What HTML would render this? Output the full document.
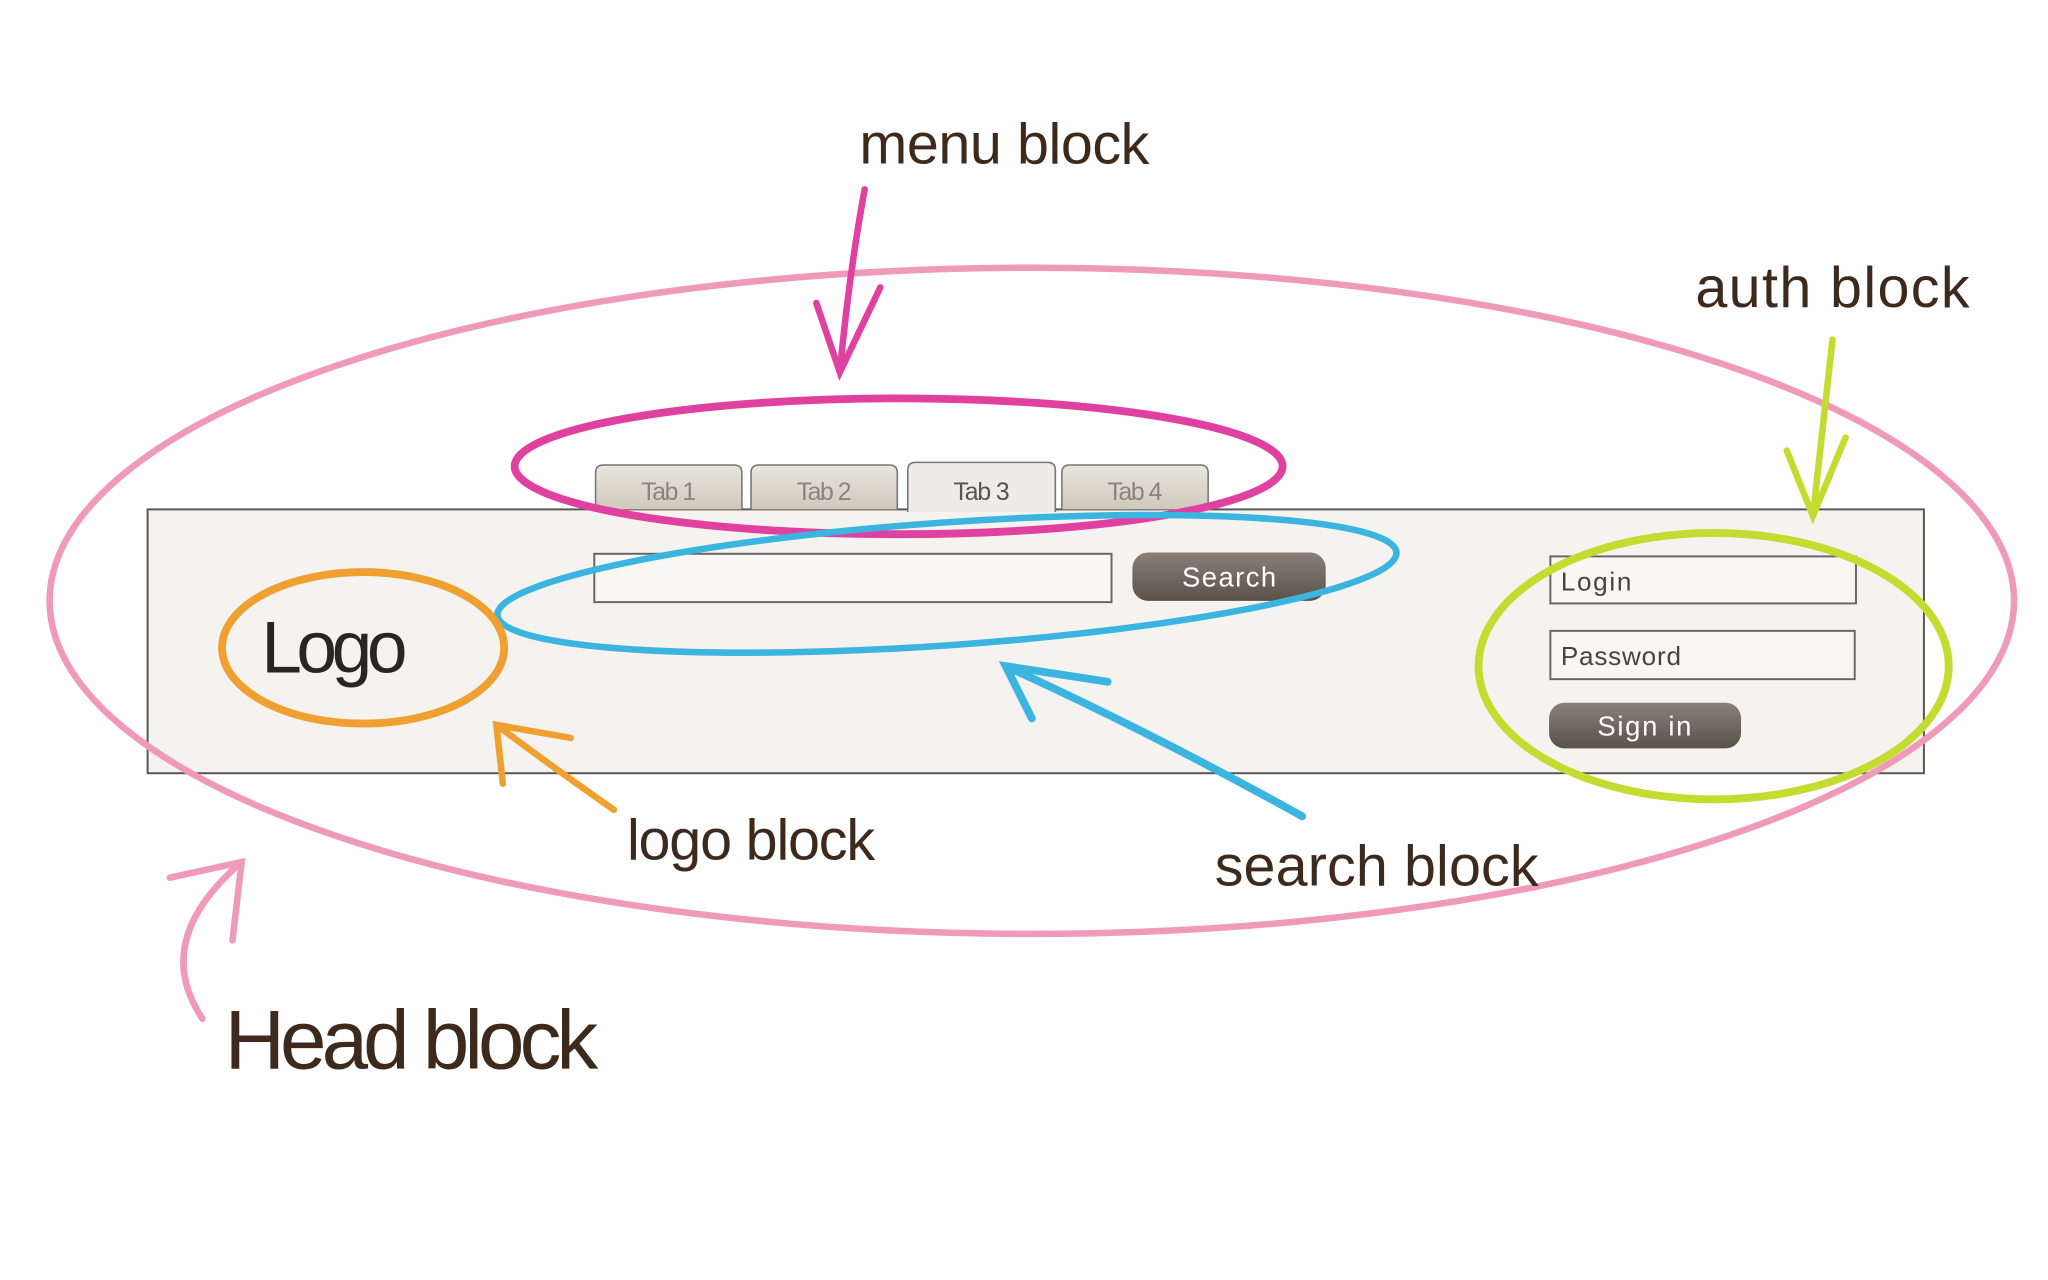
<!DOCTYPE html>
<html><head><meta charset="utf-8"><style>
html,body{margin:0;padding:0;background:#fff;}
svg{display:block;}
text{font-family:"Liberation Sans",sans-serif;}
</style></head><body>
<svg width="2048" height="1280" viewBox="0 0 1568 980" preserveAspectRatio="none" xmlns="http://www.w3.org/2000/svg">
<defs>
<linearGradient id="tab" x1="0" y1="0" x2="0" y2="1"><stop offset="0" stop-color="#ebe6de"/><stop offset="1" stop-color="#cfc8bc"/></linearGradient>
<linearGradient id="btn" x1="0" y1="0" x2="0" y2="1"><stop offset="0" stop-color="#8a8079"/><stop offset="1" stop-color="#5a514b"/></linearGradient>
</defs>
<rect width="1568" height="980" fill="#fefefe"/>
<rect x="113" y="390" width="1360" height="202" fill="#f5f3f0" stroke="#555" stroke-width="1.5"/>
<g stroke="#777" stroke-width="1.2">
<path d="M456 390 V362 q0-6 6-6 h100 q6 0 6 6 V390" fill="url(#tab)"/>
<path d="M575 390 V362 q0-6 6-6 h100 q6 0 6 6 V390" fill="url(#tab)"/>
<path d="M695 392 V360 q0-6 6-6 h101 q6 0 6 6 V392" fill="#efebe5"/>
<path d="M813 390 V362 q0-6 6-6 h100 q6 0 6 6 V390" fill="url(#tab)"/>
</g>
<g font-size="19" fill="#8a847c">
<text x="491" y="383" textLength="42">Tab 1</text>
<text x="610" y="383" textLength="42">Tab 2</text>
<text x="730" y="383" fill="#555" textLength="43">Tab 3</text>
<text x="848" y="383" textLength="42">Tab 4</text>
</g>
<rect x="455" y="424" width="396" height="37" fill="#f8f7f5" stroke="#666" stroke-width="1.5"/>
<rect x="867" y="423" width="148" height="37" rx="12" fill="url(#btn)"/>
<text x="905" y="449" font-size="21" fill="#fff" textLength="72">Search</text>
<rect x="1187" y="426" width="234" height="36" fill="#f8f7f5" stroke="#666" stroke-width="1.5"/>
<text x="1195" y="452" font-size="20" fill="#444" textLength="54">Login</text>
<rect x="1187" y="483" width="233" height="37" fill="#f8f7f5" stroke="#666" stroke-width="1.5"/>
<text x="1195" y="509" font-size="20" fill="#444" textLength="92">Password</text>
<rect x="1186" y="538" width="147" height="35" rx="12" fill="url(#btn)"/>
<text x="1223" y="563" font-size="21" fill="#fff" textLength="72">Sign in</text>
<text x="200" y="515" font-size="56" fill="#2a2520" textLength="112">Logo</text>
<g fill="none" stroke-linecap="round">
<ellipse cx="790" cy="460" rx="752" ry="255" stroke="#ee9ab8" stroke-width="5"/>
<ellipse cx="688" cy="357" rx="294" ry="52" stroke="#e040a0" stroke-width="6"/>
<ellipse cx="725" cy="447" rx="345" ry="47" transform="rotate(-4 725 447)" stroke="#3bb5e0" stroke-width="5"/>
<ellipse cx="278" cy="496" rx="108" ry="58" stroke="#f0a030" stroke-width="6"/>
<ellipse cx="1312" cy="510" rx="180" ry="102" stroke="#c4dc30" stroke-width="6"/>
<path d="M662 145 Q650 210 643 285 M625 232 L643 285 L674 220" stroke="#e040a0" stroke-width="5"/>
<path d="M1403 260 Q1395 330 1388 395 M1368 345 L1388 395 L1413 335" stroke="#c4dc30" stroke-width="5"/>
<path d="M470 620 Q420 585 380 555 M385 600 L380 555 L437 565" stroke="#f0a030" stroke-width="5"/>
<path d="M997 625 Q880 560 770 510 M790 550 L770 510 L848 522" stroke="#3bb5e0" stroke-width="6"/>
<path d="M155 780 Q115 720 185 660 M130 672 L185 660 L178 720" stroke="#ee9ab8" stroke-width="5"/>
</g>
<g fill="#3d2a1c">
<text x="658" y="125" font-size="44" textLength="222">menu block</text>
<text x="1298" y="235" font-size="44" textLength="210">auth block</text>
<text x="480" y="658" font-size="44" textLength="190">logo block</text>
<text x="930" y="678" font-size="44" textLength="248">search block</text>
<text x="172" y="818" font-size="64" textLength="286">Head block</text>
</g>
</svg>
</body></html>
